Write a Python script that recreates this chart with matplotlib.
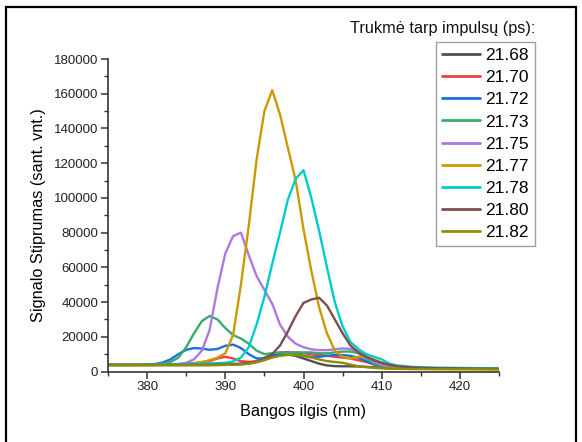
import matplotlib
matplotlib.use("Agg")
import matplotlib.pyplot as plt
from matplotlib.patches import Rectangle
from matplotlib.ticker import MultipleLocator

plt.rcParams['font.family'] = ['Liberation Sans', 'DejaVu Sans']

wavelength = [375, 378, 380, 381, 382, 383, 384, 385, 386, 387, 388, 389, 390, 391, 392,
              393, 394, 395, 396, 397, 398, 399, 400, 401, 402, 403, 404, 405, 406, 407,
              408, 409, 410, 411, 412, 414, 417, 421, 425]

labels = ["21.68", "21.70", "21.72", "21.73", "21.75", "21.77", "21.78", "21.80", "21.82"]
colors = ["#515151", "#F14040", "#1A6FDF", "#37AD6B", "#B177DE", "#CC9900", "#00CBCC",
          "#7D4E4E", "#8E8E00"]

s_2168 = [3800, 3800, 3800, 3800, 3800, 3800, 3800, 3800, 3800, 3800, 3800, 3800, 3900, 4000, 4200,
          4600, 5500, 7000, 8500, 9500, 9800, 9000, 7500, 6000, 4500, 3500, 3100, 3000, 3000, 2900,
          2700, 2400, 2200, 2000, 1900, 1800, 1700, 1600, 1500]
s_2170 = [3800, 3800, 3800, 3800, 3900, 4000, 4200, 4500, 4800, 5200, 6000, 7500, 8500, 7500, 6000,
          5500, 6000, 8000, 10000, 11000, 11000, 11000, 10500, 10000, 9500, 9000, 8500, 8000, 7500, 6500,
          5500, 4200, 3200, 2600, 2300, 2000, 1800, 1600, 1500]
s_2172 = [3800, 3800, 3900, 4300, 5200, 7000, 10000, 12500, 13500, 13200, 12500, 13000, 14800, 15500, 13500,
          10000, 7500, 7500, 9000, 10500, 11000, 10000, 9000, 8500, 8500, 9000, 9500, 9500, 9000, 8000,
          6000, 4000, 3200, 2700, 2400, 2000, 1800, 1600, 1500]
s_2173 = [3800, 3800, 3900, 4000, 4500, 5500, 8000, 14000, 22000, 29000, 32000, 30000, 25000, 21000, 19000,
          16000, 12000, 10000, 10500, 11000, 10500, 11000, 11000, 11000, 10500, 10500, 11000, 11500, 11500, 10500,
          7500, 4800, 3300, 2600, 2300, 2000, 1800, 1600, 1500]
s_2175 = [3800, 3800, 3800, 3800, 3900, 4000, 4300, 5000, 7000, 12000, 24000, 48000, 68000, 78000, 80000,
          67000, 55000, 47000, 39000, 27000, 20000, 16000, 14000, 12800, 12300, 12300, 12800, 13300, 13000, 11500,
          8500, 5500, 3800, 2900, 2500, 2100, 1800, 1600, 1500]
s_2177 = [3800, 3800, 3800, 3800, 3900, 4000, 4100, 4300, 4800, 5500, 6500, 8000, 10500, 21000, 50000,
          84000, 122000, 150000, 162000, 148000, 129000, 110000, 82000, 58000, 37000, 22000, 12000, 8500, 7500, 8500,
          8500, 7000, 5000, 3500, 2700, 2000, 1700, 1500, 1400]
s_2178 = [3800, 3800, 3800, 3900, 4000, 4100, 4200, 4300, 4400, 4500, 4600, 4800, 5000, 5800, 8000,
          14000, 27000, 43000, 62000, 80000, 99000, 111000, 116000, 100000, 81000, 60000, 40000, 26000, 17000, 13000,
          10000, 8500, 7000, 4500, 3500, 2600, 2200, 2000, 1800]
s_2180 = [3800, 3800, 3800, 3800, 3800, 3800, 3800, 3800, 3800, 3800, 3900, 4000, 4100, 4300, 4600,
          5000, 5500, 7000, 10000, 15000, 23000, 32000, 39500, 41500, 42500, 38000, 30000, 22000, 15000, 11000,
          8500, 6500, 5000, 3800, 3000, 2300, 1900, 1700, 1500]
s_2182 = [3600, 3600, 3600, 3600, 3600, 3600, 3600, 3600, 3600, 3600, 3600, 3700, 3800, 3900, 4100,
          4500, 5300, 6500, 8000, 9000, 9500, 9500, 9000, 8000, 7000, 6000, 5500, 5000, 4000, 3000,
          2500, 2100, 1800, 1600, 1500, 1400, 1300, 1250, 1200]

series = [s_2168, s_2170, s_2172, s_2173, s_2175, s_2177, s_2178, s_2180, s_2182]

W, H = 582, 442
fig = plt.figure(figsize=(W / 100, H / 100), dpi=100)
ax = fig.add_axes([108 / W, 1 - 371.5 / H, (499 - 108) / W, (371.5 - 59) / H])

for vals, lab, col in zip(series, labels, colors):
    ax.plot(wavelength, vals, color=col, lw=1.7, label=lab,
            solid_joinstyle='round', solid_capstyle='round')

ax.set_xlim(375, 425)
ax.set_ylim(0, 180000)
ax.xaxis.set_major_locator(MultipleLocator(10))
ax.xaxis.set_minor_locator(MultipleLocator(5))
ax.yaxis.set_major_locator(MultipleLocator(20000))
ax.yaxis.set_minor_locator(MultipleLocator(10000))
for s in ['top', 'right']:
    ax.spines[s].set_visible(False)
for s in ['left', 'bottom']:
    ax.spines[s].set_linewidth(1.2)
    ax.spines[s].set_color('#333333')
ax.tick_params(which='major', direction='out', length=5, width=1.1, color='#333333',
               labelsize=9.5, labelcolor='#222222', pad=2)
ax.tick_params(which='minor', direction='out', length=3, width=1.0, color='#333333')

ax.set_xlabel("Bangos ilgis (nm)", fontsize=11.7, labelpad=8)
ax.set_ylabel("Signalo Stiprumas (sant. vnt.)", fontsize=11.7, labelpad=6)

leg = ax.legend(loc='upper right', bbox_to_anchor=(535 / W, 1 - 42 / H),
                bbox_transform=fig.transFigure, borderaxespad=0, fontsize=12.5,
                handlelength=2.2, handletextpad=0.3, labelspacing=0.4, borderpad=0.35,
                fancybox=False, framealpha=1, edgecolor='#a0a0a0')
leg.get_frame().set_linewidth(1.0)
for line in leg.get_lines():
    line.set_linewidth(2.0)

fig.text(535 / W, 1 - 28 / H, "Trukmė tarp impulsų (ps):", ha='right', va='center',
         fontsize=11.7, color='#111111')

fig.patches.append(Rectangle((6 / W, -0.05), (576 - 6) / W, 1.05 - 6.5 / H,
                             transform=fig.transFigure, fill=False, edgecolor='black',
                             linewidth=1.6, figure=fig))

fig.savefig("out.png", dpi=100)
